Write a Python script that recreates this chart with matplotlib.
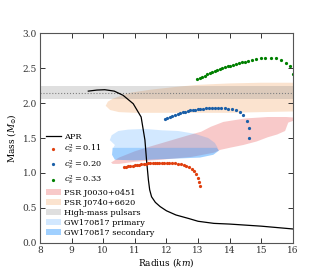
import matplotlib
matplotlib.use("Agg")
import matplotlib.pyplot as plt
from matplotlib.patches import Polygon, Patch
from matplotlib.lines import Line2D

plt.rcParams['font.family'] = 'DejaVu Serif'
plt.rcParams['mathtext.fontset'] = 'dejavuserif'

# APR mass-radius curve
apr_r = [9.53, 9.8, 10.05, 10.35, 10.63, 10.95, 11.2, 11.32, 11.37, 11.43, 11.47, 11.53,
         11.65, 11.8, 12.0, 12.3, 12.7, 13.0, 13.5, 14.0, 15.0, 16.0]
apr_m = [2.17, 2.185, 2.19, 2.17, 2.11, 1.99, 1.80, 1.47, 1.19, 0.90, 0.76, 0.66,
         0.58, 0.52, 0.46, 0.40, 0.35, 0.31, 0.28, 0.27, 0.24, 0.20]

# sound speed models
r_011 = [10.65, 10.72, 10.79, 10.86, 10.93, 11.0, 11.07, 11.14, 11.21, 11.28, 11.35, 11.42,
         11.49, 11.56, 11.63, 11.70, 11.77, 11.85, 11.93, 12.01, 12.09, 12.18, 12.27, 12.36,
         12.45, 12.54, 12.63, 12.72, 12.80, 12.88, 12.94, 12.99, 13.03, 13.07]
m_011 = [1.080, 1.087, 1.094, 1.100, 1.106, 1.111, 1.116, 1.121, 1.125, 1.129, 1.133, 1.136,
         1.139, 1.142, 1.144, 1.146, 1.147, 1.148, 1.148, 1.147, 1.145, 1.142, 1.138, 1.132,
         1.124, 1.114, 1.100, 1.082, 1.058, 1.026, 0.985, 0.935, 0.875, 0.810]

r_020 = [11.95, 12.03, 12.11, 12.19, 12.27, 12.35, 12.43, 12.51, 12.59, 12.67, 12.75, 12.83,
         12.91, 12.99, 13.07, 13.16, 13.25, 13.34, 13.44, 13.54, 13.64, 13.74, 13.85, 13.96,
         14.08, 14.20, 14.32, 14.43, 14.55, 14.61, 14.62]
m_020 = [1.765, 1.785, 1.800, 1.815, 1.830, 1.843, 1.855, 1.866, 1.876, 1.885, 1.893, 1.900,
         1.906, 1.912, 1.917, 1.921, 1.925, 1.928, 1.930, 1.931, 1.931, 1.929, 1.925, 1.918,
         1.908, 1.894, 1.870, 1.825, 1.75, 1.65, 1.50]

r_033 = [12.97, 13.05, 13.13, 13.21, 13.29, 13.37, 13.45, 13.53, 13.61, 13.69, 13.77, 13.85,
         13.93, 14.01, 14.10, 14.19, 14.28, 14.38, 14.48, 14.59, 14.71, 14.84, 14.98, 15.13,
         15.29, 15.45, 15.61, 15.77, 15.90, 16.0]
m_033 = [2.340, 2.358, 2.376, 2.393, 2.410, 2.426, 2.442, 2.457, 2.471, 2.485, 2.498, 2.511,
         2.523, 2.534, 2.546, 2.557, 2.568, 2.580, 2.592, 2.604, 2.616, 2.628, 2.638, 2.646,
         2.650, 2.644, 2.615, 2.578, 2.525, 2.42]

# observational constraints (outlines)
j0030 = [(10.25, 1.15), (10.5, 1.22), (11.0, 1.31), (11.5, 1.38), (12.1, 1.46), (12.7, 1.54),
         (13.1, 1.59), (13.4, 1.66), (13.8, 1.73), (14.5, 1.78), (15.2, 1.80), (15.8, 1.80),
         (16.1, 1.79), (16.1, 1.76), (15.85, 1.72), (15.8, 1.66), (15.75, 1.60), (15.5, 1.55),
         (15.2, 1.51), (14.85, 1.45), (14.43, 1.40), (14.0, 1.36), (13.7, 1.33), (13.5, 1.29),
         (12.8, 1.23), (11.85, 1.19), (11.0, 1.16), (10.5, 1.13), (10.3, 1.13)]
j0740 = [(10.08, 1.96), (10.15, 2.02), (10.3, 2.06), (10.55, 2.10), (10.9, 2.15), (11.5, 2.19),
         (12.3, 2.23), (13.0, 2.26), (14.0, 2.28), (15.0, 2.29), (16.1, 2.29), (16.1, 1.88),
         (15.0, 1.87), (14.0, 1.86), (13.0, 1.86), (12.0, 1.86), (11.0, 1.86), (10.5, 1.87),
         (10.22, 1.90)]
hm_lo, hm_mid, hm_hi = 2.06, 2.14, 2.24
gw_primary = [(10.21, 1.47), (10.27, 1.54), (10.48, 1.60), (10.79, 1.62), (11.32, 1.63),
              (11.85, 1.61), (12.37, 1.60), (12.9, 1.56), (13.32, 1.50), (13.53, 1.43),
              (13.62, 1.36), (10.32, 1.36), (10.37, 1.40)]
gw_secondary = [(10.30, 1.36), (13.60, 1.36), (13.66, 1.32), (13.48, 1.26), (13.06, 1.22),
                (12.0, 1.20), (10.95, 1.18), (10.37, 1.19), (10.28, 1.26)]

c_pink = 'lightcoral'
c_orange = 'sandybrown'
c_blue = 'dodgerblue'

fig = plt.figure(figsize=(3.27, 2.73), dpi=100)
ax = fig.add_axes([0.122, 0.110, 0.774, 0.769])

ax.add_patch(Polygon(j0030, closed=True, fc=c_pink, ec='none', alpha=0.42))
ax.add_patch(Polygon(j0740, closed=True, fc=c_orange, ec='none', alpha=0.3))
ax.axhspan(hm_lo, hm_hi, color='gray', alpha=0.25, lw=0)
ax.axhline(hm_mid, color='gray', ls=':', lw=0.8)
ax.add_patch(Polygon(gw_primary, closed=True, fc=c_blue, ec='none', alpha=0.2))
ax.add_patch(Polygon(gw_secondary, closed=True, fc=c_blue, ec='none', alpha=0.42))

ax.plot(apr_r, apr_m, color='black', lw=0.9)
ax.plot(r_011, m_011, ls='none', marker='o', ms=1.3, color='#e0400f')
ax.plot(r_020, m_020, ls='none', marker='o', ms=1.3, color='#1a5fa8')
ax.plot(r_033, m_033, ls='none', marker='o', ms=1.3, color='green')

ax.set_xlim(8, 16)
ax.set_ylim(0, 3)
ax.set_xticks(range(8, 17))
ax.set_yticks([0.0, 0.5, 1.0, 1.5, 2.0, 2.5, 3.0])
ax.tick_params(direction='in', top=True, right=True, labelsize=6.5, length=3.5, width=0.7,
               pad=2, colors='#333333')
for s in ax.spines.values():
    s.set_color('#555555')
    s.set_linewidth(0.8)
ax.set_xlabel('Radius ($km$)', fontsize=6.5, labelpad=1)
ax.set_ylabel(r'Mass ($M_{\odot}$)', fontsize=6.5, labelpad=3)

handles = [
    Line2D([], [], color='black', lw=0.9),
    Line2D([], [], ls='none', marker='o', ms=1.3, color='#e0400f'),
    Line2D([], [], ls='none', marker='o', ms=1.3, color='#1a5fa8'),
    Line2D([], [], ls='none', marker='o', ms=1.3, color='green'),
    Patch(fc=c_pink, alpha=0.42, ec='none'),
    Patch(fc=c_orange, alpha=0.3, ec='none'),
    Patch(fc='gray', alpha=0.25, ec='none'),
    Patch(fc=c_blue, alpha=0.2, ec='none'),
    Patch(fc=c_blue, alpha=0.42, ec='none'),
]
labels = ['APR', r'$c_s^2 = 0.11$', r'$c_s^2 = 0.20$', r'$c_s^2 = 0.33$',
          'PSR J0030+0451', 'PSR J0740+6620', 'High-mass pulsars',
          'GW170817 primary', 'GW170817 secondary']
ax.legend(handles, labels, loc='lower left', bbox_to_anchor=(0.0, 0.0), frameon=False,
          fontsize=5.9, handlelength=1.9, handletextpad=0.4, labelspacing=0.25,
          borderaxespad=0.3)

fig.savefig('out.png', dpi=100)
